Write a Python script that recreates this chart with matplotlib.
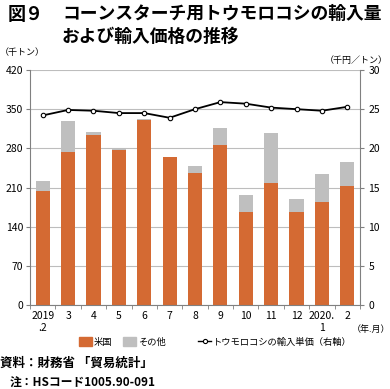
import matplotlib.pyplot as plt
from matplotlib.lines import Line2D
from matplotlib.patches import Patch

plt.rcParams['font.family'] = ['Noto Sans CJK JP', 'DejaVu Sans']

# data
months = ['2019\n.2', '3', '4', '5', '6', '7', '8', '9', '10', '11', '12', '2020.\n1', '2']
us = [203, 274, 303, 277, 331, 264, 236, 286, 166, 218, 166, 184, 212]
total = [222, 328, 309, 278, 332, 264, 248, 316, 197, 307, 189, 235, 255]
others = [t - u for t, u in zip(total, us)]
price = [24.2, 24.9, 24.8, 24.5, 24.5, 23.9, 25.0, 25.9, 25.7, 25.2, 25.0, 24.8, 25.3]

orange = '#D46A33'
gray = '#BFBFBF'

fig = plt.figure(figsize=(3.9, 3.89), dpi=100)
ax = fig.add_axes([30 / 390, 1 - 305 / 389, 330 / 390, 235 / 389])
x = range(len(months))

ax.bar(x, us, width=0.56, color=orange, zorder=2)
ax.bar(x, others, width=0.56, bottom=us, color=gray, zorder=2)
ax.set_ylim(0, 420)
ax.set_yticks(range(0, 421, 70))
ax.set_xlim(-0.5, len(months) - 0.5)
ax.grid(axis='y', color='#BDBDBD', linewidth=0.8, zorder=0)
ax.set_axisbelow(True)

# category boundary ticks
ax.set_xticks([i + 0.5 for i in range(-1, len(months))], minor=True)
ax.set_xticks(list(x))
ax.set_xticklabels(months, fontsize=7.5, linespacing=1.3)
ax.tick_params(axis='x', which='major', length=0, pad=4)
ax.tick_params(axis='x', which='minor', length=3, color='#808080')
ax.tick_params(axis='y', length=3, color='#808080', labelsize=7.5, pad=2)

for s in ['top', 'right']:
    ax.spines[s].set_visible(False)
for s in ['left', 'bottom']:
    ax.spines[s].set_color('#808080')

ax2 = ax.twinx()
ax2.plot(x, price, color='black', linewidth=1.3, marker='o', markersize=3.2,
         markerfacecolor='white', markeredgecolor='black', markeredgewidth=0.8, zorder=3)
ax2.set_ylim(0, 30)
ax2.set_yticks(range(0, 31, 5))
ax2.tick_params(axis='y', length=3, color='#808080', labelsize=7.5, pad=3)
for s in ['top', 'left', 'bottom']:
    ax2.spines[s].set_visible(False)
ax2.spines['right'].set_color('#808080')

# title and unit labels
fig.text(8 / 390, 1 - 14 / 389, '図９', fontsize=13, fontweight='bold', va='center')
fig.text(62 / 390, 1 - 14 / 389, 'コーンスターチ用トウモロコシの輸入量', fontsize=12.8,
         fontweight='bold', va='center')
fig.text(62 / 390, 1 - 36.5 / 389, 'および輸入価格の推移', fontsize=12.8,
         fontweight='bold', va='center')
fig.text(0 / 390, 1 - 53 / 389, '（千トン）', fontsize=6.5, va='center')
fig.text(388 / 390, 1 - 60 / 389, '（千円／トン）', fontsize=6.5, va='center', ha='right')
fig.text(390 / 390, 1 - 329 / 389, '（年.月）', fontsize=6.5, va='center', ha='right')

# legend entries placed one by one, as in the reference
handles = [Patch(color=orange), Patch(color=gray),
           Line2D([0], [0], color='black', linewidth=1.0, marker='o', markersize=3,
                  markerfacecolor='white', markeredgewidth=0.8)]
labels = ['米国', 'その他', 'トウモロコシの輸入単価（右軸）']
lx = [79, 123, 198]
for h, lab, px in zip(handles, labels, lx):
    fig.legend([h], [lab], loc='center left', bbox_to_anchor=(px / 390, 1 - 342 / 389),
               frameon=False, fontsize=6.7, handlelength=1.4, handleheight=1.0,
               handletextpad=0.2, borderaxespad=0, borderpad=0)

fig.text(0 / 390, 1 - 363 / 389, '資料：財務省 「貿易統計」', fontsize=9, fontweight='bold', va='center')
fig.text(10 / 390, 1 - 383 / 389, '注：HSコード1005.90-091', fontsize=8.5, fontweight='bold', va='center')

fig.savefig('out.png', dpi=100)
